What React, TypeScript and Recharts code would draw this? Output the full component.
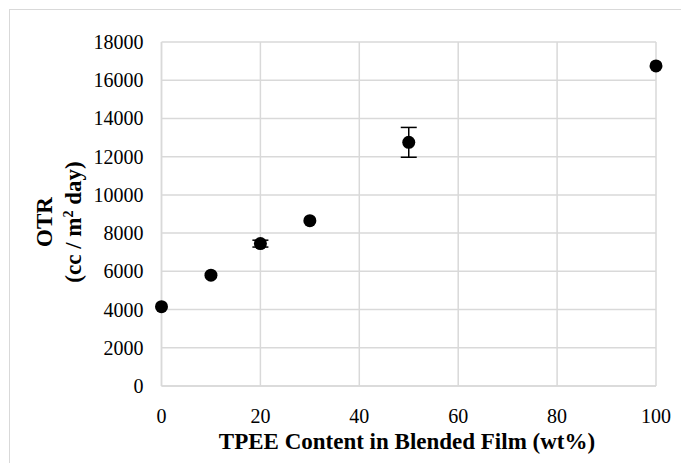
import React from 'react';
import {
  ScatterChart,
  Scatter,
  XAxis,
  YAxis,
  CartesianGrid,
  ErrorBar,
} from 'recharts';

const FONT = "'Liberation Serif', Tinos, 'DejaVu Serif', serif";
const GRID = '#d9d9d9';

// TPEE content (wt%) vs OTR (cc / m2 day)
const tpee = [0, 10, 20, 30, 50, 100];
const otr = [4150, 5800, 7450, 8650, 12750, 16750];
const otrErr = [null, null, 180, null, 780, null];

const xTicks = [0, 20, 40, 60, 80, 100];
const yTicks = [0, 2000, 4000, 6000, 8000, 10000, 12000, 14000, 16000, 18000];

const data = tpee.map((x, i) => ({ x, y: otr[i], err: otrErr[i] }));

const txt = { fontFamily: FONT, fill: '#000' };

const XTick = ({ x, y, payload }: any) => (
  <text x={x} y={y + 37} textAnchor="middle" fontSize={20} fontFamily={FONT} style={txt}>
    {payload.value}
  </text>
);

const YTick = ({ x, y, payload }: any) => (
  <text x={x - 18} y={y + 7} textAnchor="end" fontSize={20} fontFamily={FONT} style={txt}>
    {payload.value}
  </text>
);

const YLabel = () => (
  <g fontWeight="bold" fontSize={23} style={txt}>
    <text x={52} y={222} textAnchor="middle" transform="rotate(-90 52 222)" style={txt}>
      OTR
    </text>
    <text x={81} y={222} textAnchor="middle" transform="rotate(-90 81 222)" style={txt}>
      (cc / m
      <tspan fontSize={14} dy={-8}>2</tspan>
      <tspan dy={8}> day)</tspan>
    </text>
  </g>
);

const XLabel = () => (
  <text x={407} y={449} textAnchor="middle" fontWeight="bold" fontSize={23} style={txt}>
    TPEE Content in Blended Film (wt%)
  </text>
);

const Dot = (p: any) => <circle cx={p.cx} cy={p.cy} r={6.5} fill="#000" />;

export default function App() {
  return (
    <div style={{ position: 'absolute', left: 0, top: 0, width: 681, height: 463, background: '#fff', overflow: 'hidden', fontFamily: FONT }}>
      <div
        style={{
          position: 'absolute',
          left: 9,
          top: 9,
          width: 800,
          height: 600,
          borderLeft: `1px solid ${GRID}`,
          borderTop: `1px solid ${GRID}`,
        }}
      />
      <div style={{ position: 'absolute', left: 0, top: 0 }}>
        <ScatterChart width={681} height={463} margin={{ top: 42, right: 25, left: 0, bottom: 0 }} style={{ fontFamily: FONT }}>
          <CartesianGrid stroke={GRID} strokeWidth={1.5} />
          <XAxis
            type="number"
            dataKey="x"
            domain={[0, 100]}
            ticks={xTicks}
            height={77}
            tickSize={0}
            tickMargin={0}
            tickLine={false}
            axisLine={{ stroke: GRID, strokeWidth: 1.5 }}
            tick={<XTick />}
            label={{ content: () => <XLabel /> }}
          />
          <YAxis
            type="number"
            dataKey="y"
            domain={[0, 18000]}
            ticks={yTicks}
            width={161.5}
            tickSize={0}
            tickMargin={0}
            tickLine={false}
            axisLine={{ stroke: GRID, strokeWidth: 1.5 }}
            tick={<YTick />}
            label={{ content: () => <YLabel /> }}
          />
          <Scatter data={data} shape={Dot} isAnimationActive={false}>
            <ErrorBar dataKey="err" direction="y" width={8} stroke="#000" strokeWidth={1.5} />
          </Scatter>
        </ScatterChart>
      </div>
    </div>
  );
}
